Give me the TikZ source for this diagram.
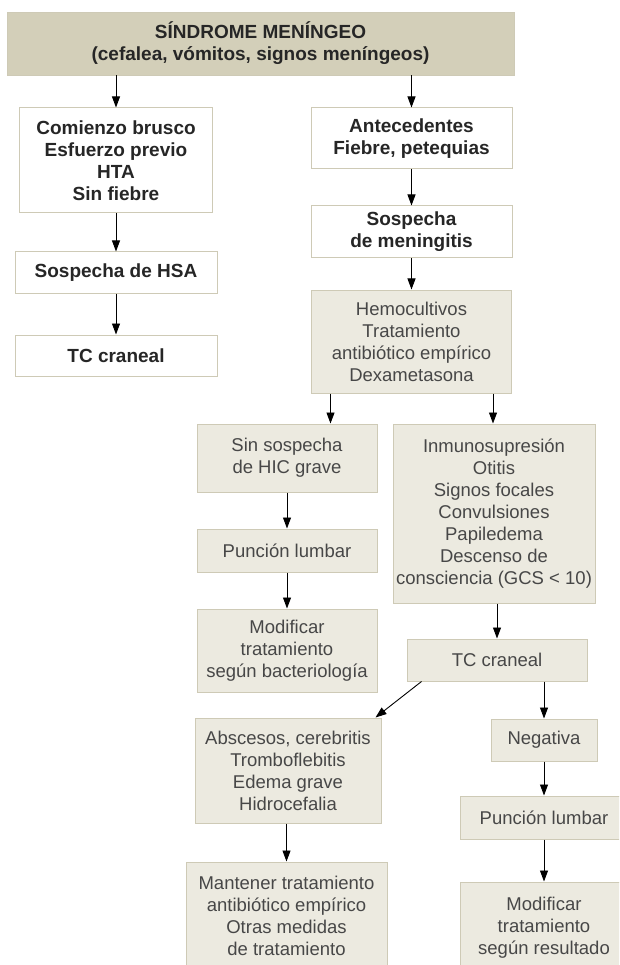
\documentclass[tikz,border=0pt]{standalone}
\usepackage{fontspec}
\setmainfont{Liberation Sans}
\usepackage{xcolor}
\usetikzlibrary{positioning,arrows.meta}
\definecolor{headfill}{RGB}{211,207,185}
\definecolor{lightfill}{RGB}{236,234,224}
\definecolor{boxline}{RGB}{206,202,182}

\begin{document}
\begin{tikzpicture}[x=1pt, y=-1pt,
    headbox/.style={draw=boxline, fill=headfill, line width=0.8pt, inner sep=0pt, align=center, text=black!85, font=\fontsize{19}{22}\selectfont\bfseries},
    whitebox/.style={draw=boxline, fill=white, line width=1pt, inner sep=0pt, align=center, text=black!85, font=\fontsize{19}{22}\selectfont\bfseries},
    greybox/.style={draw=boxline, fill=lightfill, line width=1pt, inner sep=0pt, align=center, text=black!72, font=\fontsize{18.5}{22}\selectfont},
    arr/.style={-{Triangle[length=11pt, width=8pt]}, line width=0.9pt}]
    \useasboundingbox (0,0) rectangle (619,965);
    \clip (0,0) rectangle (619,965);
    \fill[white] (0,0) rectangle (619,965);

    \node[headbox, minimum width=507pt, minimum height=63pt] (sindrome) at (260.5,43.5) {SÍNDROME MENÍNGEO\\(cefalea, vómitos, signos meníngeos)};

    \node[whitebox, minimum width=193pt, minimum height=105pt] (brusco) at (116,160.5) {Comienzo brusco\\Esfuerzo previo\\HTA\\Sin fiebre};
    \node[whitebox, minimum width=202pt, minimum height=41pt] (hsa) at (116,272.5) {Sospecha de HSA};
    \node[whitebox, minimum width=202pt, minimum height=41pt] (tcizq) at (116,355.5) {TC craneal};

    \node[whitebox, minimum width=201pt, minimum height=61pt] (antec) at (411.5,138.5) {Antecedentes\\Fiebre, petequias};
    \node[whitebox, minimum width=201pt, minimum height=52pt] (menin) at (411.5,232) {Sospecha\\de meningitis};
    \node[greybox, minimum width=200pt, minimum height=103pt] (hemo) at (411.5,341.5) {Hemocultivos\\Tratamiento\\antibiótico empírico\\Dexametasona};

    \node[greybox, minimum width=180pt, minimum height=68pt] (hic) at (287,458) {Sin sospecha\\de HIC grave};
    \node[greybox, minimum width=180pt, minimum height=43pt] (puncion) at (287,550.5) {Punción lumbar};
    \node[greybox, minimum width=180pt, minimum height=83pt] (modbact) at (287,650.5) {Modificar\\tratamiento\\según bacteriología};

    \node[greybox, minimum width=202pt, minimum height=179pt] (inmuno) at (494,513.5) {Inmunosupresión\\Otitis\\Signos focales\\Convulsiones\\Papiledema\\Descenso de\\consciencia (GCS < 10)};
    \node[greybox, minimum width=180pt, minimum height=42pt] (tcder) at (497,660) {TC craneal};

    \node[greybox, minimum width=186pt, minimum height=105pt] (absc) at (288,770.5) {Abscesos, cerebritis\\Tromboflebitis\\Edema grave\\Hidrocefalia};
    \node[greybox, minimum width=201pt, minimum height=108pt] (mantener) at (286.5,916) {Mantener tratamiento\\antibiótico empírico\\Otras medidas\\de tratamiento};

    \node[greybox, minimum width=106pt, minimum height=42pt] (negativa) at (544,740) {Negativa};
    \node[greybox, minimum width=168pt, minimum height=43pt] (puncionb) at (544,817.5) {Punción lumbar};
    \node[greybox, minimum width=168pt, minimum height=92pt] (modres) at (544,928) {Modificar\\tratamiento\\según resultado};

    \coordinate (hemoizq) at ([xshift=19.5pt]hemo.south west);
    \coordinate (hemoder) at ([xshift=-19pt]hemo.south east);
    \coordinate (tcsal) at ([xshift=15pt]tcder.south west);
    \coordinate (abscent) at ([xshift=-6pt]absc.north east);

    \draw[arr] (sindrome.south -| brusco.north) -- (brusco.north);
    \draw[arr] (sindrome.south -| antec.north) -- (antec.north);
    \draw[arr] (brusco) -- (hsa);
    \draw[arr] (hsa) -- (tcizq);
    \draw[arr] (antec) -- (menin);
    \draw[arr] (menin) -- (hemo);
    \draw[arr] (hemoizq) -- (hemoizq |- hic.north);
    \draw[arr] (hemoder) -- (hemoder |- inmuno.north);
    \draw[arr] (hic) -- (puncion);
    \draw[arr] (puncion) -- (modbact);
    \draw[arr] (inmuno.south -| tcder.north) -- (tcder.north);
    \draw[arr] (tcsal) -- (abscent);
    \draw[arr] (tcder.south -| negativa.north) -- (negativa.north);
    \draw[arr] (negativa) -- (puncionb);
    \draw[arr] (puncionb) -- (modres);
    \draw[arr] (absc.south -| mantener.north) -- (mantener.north);
\end{tikzpicture}
\end{document}
